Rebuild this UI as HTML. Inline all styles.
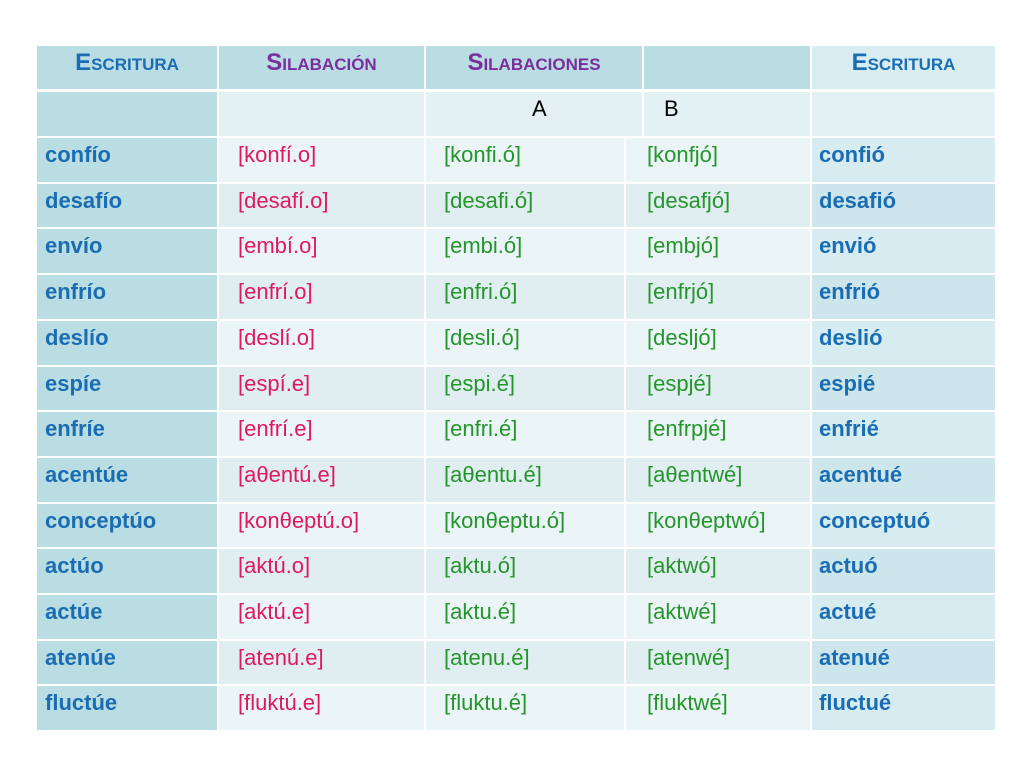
<!DOCTYPE html>
<html><head><meta charset="utf-8"><style>
body{margin:0;width:1024px;height:768px;background:#fff;position:relative;overflow:hidden;font-family:"Liberation Sans",Arial,sans-serif}
.c{position:absolute;box-sizing:border-box;display:flex;align-items:center;font-size:22px;white-space:nowrap;padding-bottom:10px}
.h{font-weight:bold;font-variant:small-caps;font-size:24px;justify-content:center}
.b{color:#1a6db2;font-weight:bold}
.p{color:#e0185c}
.g{color:#23952a}
</style></head><body>
<div id="t"></div>
<script>
const rowsW=["confío","desafío","envío","enfrío","deslío","espíe","enfríe","acentúe","conceptúo","actúo","actúe","atenúe","fluctúe"];
const rowsS=["[konfí.o]","[desafí.o]","[embí.o]","[enfrí.o]","[deslí.o]","[espí.e]","[enfrí.e]","[aθentú.e]","[konθeptú.o]","[aktú.o]","[aktú.e]","[atenú.e]","[fluktú.e]"];
const rowsA=["[konfi.ó]","[desafi.ó]","[embi.ó]","[enfri.ó]","[desli.ó]","[espi.é]","[enfri.é]","[aθentu.é]","[konθeptu.ó]","[aktu.ó]","[aktu.é]","[atenu.é]","[fluktu.é]"];
const rowsB=["[konfjó]","[desafjó]","[embjó]","[enfrjó]","[desljó]","[espjé]","[enfrpjé]","[aθentwé]","[konθeptwó]","[aktwó]","[aktwé]","[atenwé]","[fluktwé]"];
const rowsE=["confió","desafió","envió","enfrió","deslió","espié","enfrié","acentué","conceptuó","actuó","actué","atenué","fluctué"];
const t=document.getElementById('t');
function cell(x1,y1,x2,y2,bg,txt,cls,name,pad){
  const d=document.createElement('div');
  
  
  d.className='c '+(cls||'');
  d.style.left=x1+'px';d.style.top=y1+'px';d.style.width=(x2-x1-2)+'px';d.style.height=(y2-y1-2)+'px';
  d.style.background=bg;
  if(pad!=null)d.style.paddingLeft=pad+'px';
  d.textContent=txt||'';
  t.appendChild(d);
}
const teal='#b9dde2';
cell(37,46,219,91,teal,'Escritura','h b','header-escritura');
cell(219,46,426,91,teal,'Silabación','h','header-silabacion');
t.lastChild.style.color='#7a2f9c';
cell(426,46,644,91,teal,'Silabaciones','h','header-silabaciones');
t.lastChild.style.color='#7a2f9c';
cell(644,46,812,91,teal,'','','header-empty');
cell(812,46,997,91,'#d8edf1','Escritura','h b','header-escritura-2');
cell(37,92,219,138,teal,'','','subheader-empty');
cell(219,92,426,138,'#e4f1f4','','','subheader-empty-2');
cell(426,92,644,138,'#e4f1f4','A','','subheader-a',106);
cell(644,92,812,138,'#e4f1f4','B','','subheader-b',20);
cell(812,92,997,138,'#e4f1f4','','','subheader-empty-3');
const y0=138,rh=45.7;
for(let i=0;i<rowsW.length;i++){
  const y1=Math.round(y0+i*rh),y2=Math.round(y0+(i+1)*rh);
  const lt=i%2? '#e1eef1':'#ebf5f7';
  const r5=i%2? '#cde6eb':'#d7ecf0';
  cell(37,y1,219,y2,teal,rowsW[i],'b','word-'+i,8);
  cell(219,y1,426,y2,lt,rowsS[i],'p','syllabification-'+i,19);
  cell(426,y1,626,y2,lt,rowsA[i],'g','syllabification-a-'+i,18);
  cell(626,y1,812,y2,lt,rowsB[i],'g','syllabification-b-'+i,21);
  cell(812,y1,997,y2,r5,rowsE[i],'b','written-'+i,7);
}
</script>
</body></html>
